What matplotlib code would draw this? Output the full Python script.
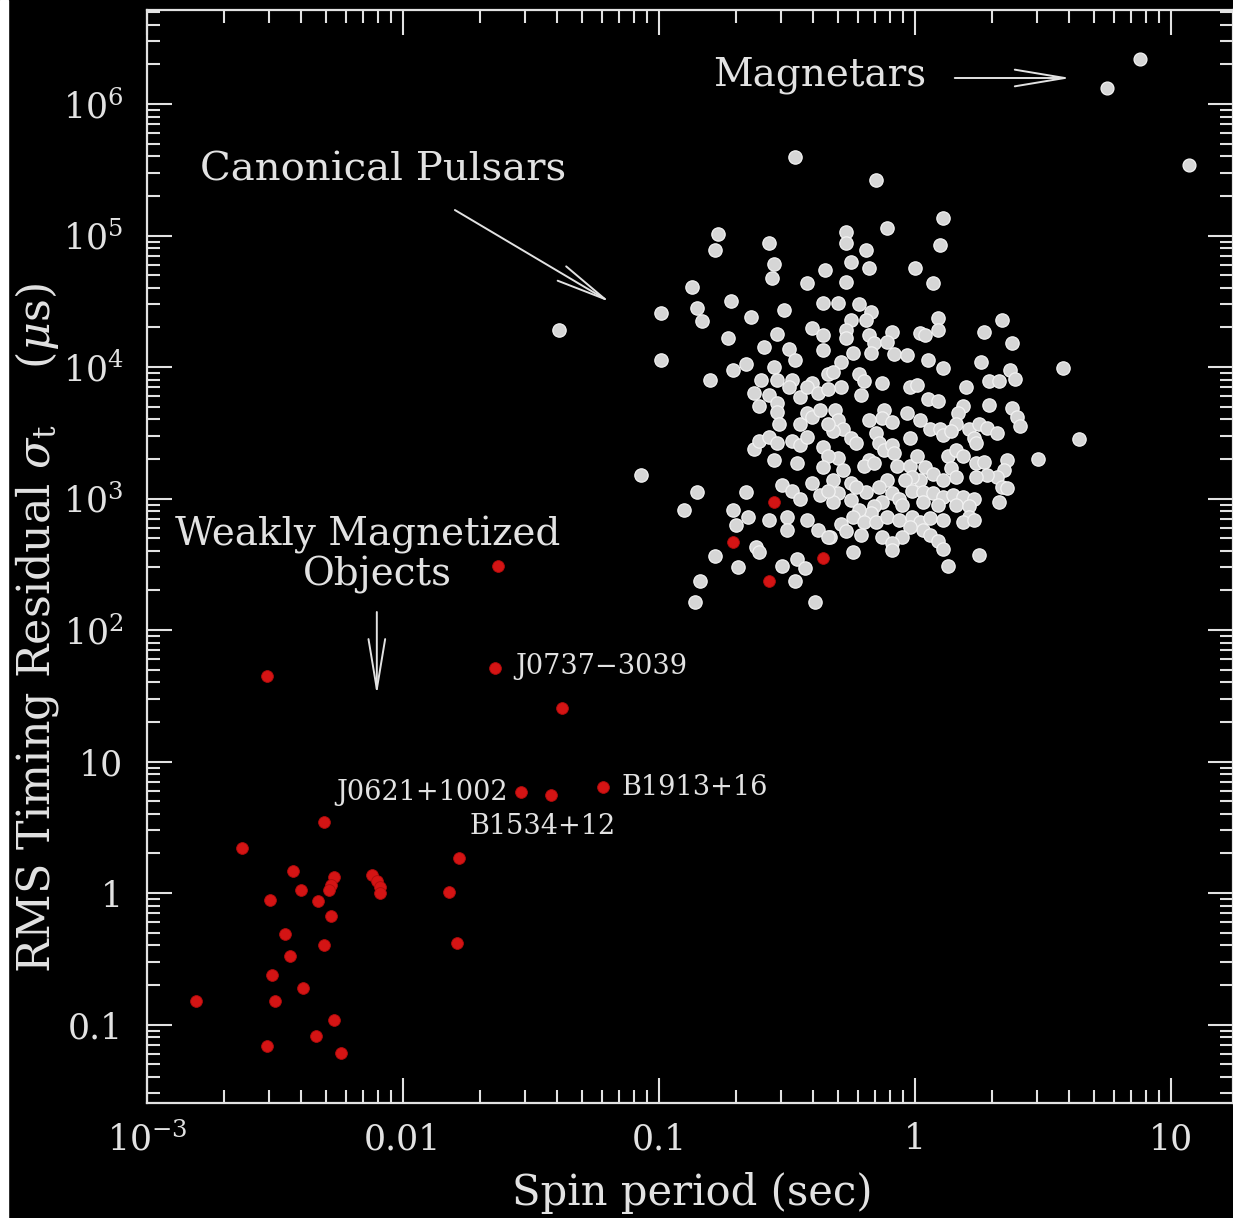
import matplotlib
matplotlib.use("Agg")
import matplotlib.pyplot as plt
import numpy as np
from matplotlib.patches import Rectangle
from matplotlib.ticker import LogLocator, NullFormatter

# values, stored as log10(period / s) and log10(rms / us)
log_period_canonical = [
    -0.47, -0.77, -0.78, -0.57, -0.55, -0.56, -0.35, -0.42, -0.87, -0.72,
    -0.85, -0.83, -0.99, -0.64, -0.51, -0.36, -0.73, -0.54, -0.40, -0.36,
    -0.59, -0.49, -0.36, -0.99, -0.47, -0.71, -0.66, -0.55, -0.34, -0.80,
    -0.60, -0.54, -0.48, -0.40, -1.39,
    -0.15, 0.11, 0.10, -0.11, -0.27, -0.27, -0.19, -0.25, -0.18, 0.00,
    0.07, -0.27, -0.30, -0.22, -0.17, -0.19, -0.25, -0.27, -0.27, -0.18,
    -0.16, -0.09, -0.11, 0.02, 0.04, 0.09, 0.09, 0.34, 0.27, 0.38,
    -0.24, -0.17, -0.08, -0.03, 0.05, 0.11, -0.29, -0.32, 0.26, 0.37,
    0.39, 0.29, 0.33, 0.58, -0.22, -0.20, -0.13, -0.29, -0.02, 0.01,
    0.20,
    -0.21, 0.05, 0.09, 0.29, 0.38, 0.40, 0.41, 0.19, 0.17, 0.16,
    0.21, 0.25, 0.28, 0.32, 0.23, 0.24, 0.64, 0.48, -0.03, 0.02,
    0.06, 0.10, 0.11, 0.14, -0.12, -0.13, -0.09, -0.18, -0.31, -0.30,
    -0.28, -0.32, -0.25, -0.23, -0.15, -0.14, -0.12, -0.09, -0.08, -0.02,
    -0.18, -0.20, -0.16, -0.30, -0.28, -0.32, -0.25, -0.07, -0.02, 0.01,
    0.04, 0.07, 0.13, 0.16, 0.19, 0.24, 0.27, 0.36, 0.35, 0.32,
    0.28, 0.24, 0.34, 0.36, 0.14, 0.16, 0.11, 0.02, -0.01, -0.04,
    -0.11, -0.14, -0.19, -0.23, -0.30, -0.32, -0.25, -0.09, -0.06, -0.01,
    0.03, 0.07, 0.11, 0.15, 0.19, 0.23, 0.16, 0.21, 0.21, 0.19,
    0.23, 0.33, 0.03, 0.09, -0.05, -0.13, -0.16, -0.17, -0.22, -0.24,
    -0.20, -0.29, -0.27, -0.33, -0.21, -0.15, -0.11, -0.06, -0.01, 0.02,
    0.06, 0.11, 0.03, 0.06, 0.09, 0.11, -0.02, -0.05, -0.13, -0.09,
    -0.09, -0.24, 0.13, 0.25,
    -0.63, -0.61, -0.57, -0.54, -0.54, -0.49, -0.45, -0.42, -0.38, -0.34,
    -0.53, -0.45, -0.42, -0.40, -0.37, -0.34, -0.63, -0.61, -0.57, -0.54,
    -0.48, -0.45, -0.42, -0.36, -0.34, -0.36, -0.55, -0.46, -1.07, -0.85,
    -0.90, -0.66, -0.52, -0.48, -0.40, -0.37, -0.34, -0.45, -0.71, -0.70,
    -0.65, -0.57, -0.50, -0.50, -0.42, -0.38, -0.34, -0.62, -0.61, -0.78,
    -0.69, -0.52, -0.46, -0.43, -0.84, -0.47, -0.86, -0.39,
]
log_rms_canonical = [
    5.60, 5.01, 4.89, 4.94, 4.78, 4.68, 4.74, 4.64, 4.61, 4.50,
    4.45, 4.35, 4.41, 4.38, 4.43, 4.49, 4.22, 4.25, 4.30, 4.24,
    4.15, 4.14, 4.13, 4.05, 4.05, 3.98, 4.02, 4.00, 3.95, 3.90,
    3.90, 3.90, 3.90, 3.88, 4.28,
    5.42, 5.13, 4.93, 5.06, 5.03, 4.94, 4.89, 4.80, 4.75, 4.75,
    4.64, 4.65, 4.49, 4.48, 4.42, 4.36, 4.36, 4.28, 4.22, 4.24,
    4.18, 4.27, 4.19, 4.26, 4.24, 4.37, 4.28, 4.36, 4.27, 4.18,
    4.11, 4.11, 4.10, 4.09, 4.05, 3.99, 4.04, 3.96, 4.04, 3.98,
    3.91, 3.89, 3.89, 3.99, 3.95, 3.89, 3.88, 3.85, 3.85, 3.86,
    3.85,
    3.79, 3.76, 3.74, 3.71, 3.69, 3.62, 3.55, 3.70, 3.65, 3.57,
    3.53, 3.57, 3.54, 3.50, 3.46, 3.42, 3.45, 3.30, 3.65, 3.60,
    3.53, 3.53, 3.48, 3.51, 3.67, 3.61, 3.58, 3.60, 3.67, 3.60,
    3.53, 3.51, 3.46, 3.42, 3.50, 3.42, 3.37, 3.41, 3.35, 3.46,
    3.29, 3.25, 3.27, 3.31, 3.22, 3.14, 3.12, 3.25, 3.25, 3.32,
    3.24, 3.19, 3.32, 3.37, 3.32, 3.27, 3.28, 3.29, 3.22, 3.16,
    3.18, 3.16, 3.09, 3.08, 3.23, 3.16, 3.14, 3.14, 3.16, 3.14,
    3.14, 3.09, 3.05, 3.09, 3.04, 2.97, 2.99, 3.04, 3.00, 3.06,
    3.05, 3.04, 3.01, 3.03, 3.01, 3.00, 2.95, 2.94, 2.86, 2.82,
    2.84, 2.97, 2.97, 2.95, 2.95, 2.97, 2.94, 2.89, 2.91, 2.86,
    2.82, 2.81, 2.75, 2.71, 2.72, 2.82, 2.86, 2.84, 2.86, 2.82,
    2.85, 2.84, 2.76, 2.72, 2.68, 2.62, 2.78, 2.71, 2.71, 2.66,
    2.61, 2.59, 2.49, 2.57,
    3.80, 3.70, 3.79, 3.73, 3.66, 3.85, 3.77, 3.85, 3.80, 3.83,
    3.57, 3.57, 3.65, 3.62, 3.67, 3.57, 3.38, 3.44, 3.47, 3.42,
    3.44, 3.41, 3.47, 3.39, 3.32, 3.24, 3.29, 3.27, 3.18, 3.05,
    2.91, 3.05, 3.10, 3.06, 3.12, 3.03, 3.06, 3.00, 2.91, 2.80,
    2.86, 2.84, 2.86, 2.76, 2.84, 2.76, 2.71, 2.63, 2.59, 2.56,
    2.48, 2.49, 2.54, 2.47, 2.37, 2.37, 2.21, 2.21,
]

log_period_magnetar = [0.88, 0.75, 1.07]
log_rms_magnetar = [6.34, 6.12, 5.54]

log_period_weak = [
    -1.63, -1.64, -2.53, -1.38, -1.54, -1.42, -1.22, -2.31, -2.63, -1.78,
    -2.43, -2.27, -2.28, -2.29, -2.12, -2.10, -2.09, -2.09, -1.82, -2.40,
    -2.52, -2.33, -2.28, -1.79, -2.46, -2.31, -2.44, -2.51, -2.39, -2.81,
    -2.50, -2.27, -2.34, -2.53, -2.24,
    -0.55, -0.71, -0.57, -0.36,
]
log_rms_weak = [
    2.49, 1.71, 1.65, 1.41, 0.77, 0.745, 0.81, 0.54, 0.34, 0.27,
    0.17, 0.12, 0.06, 0.02, 0.14, 0.09, 0.045, 0.00, 0.01, 0.02,
    -0.05, -0.06, -0.175, -0.38, -0.31, -0.395, -0.48, -0.62, -0.72, -0.82,
    -0.82, -0.966, -1.09, -1.16, -1.22,
    2.97, 2.67, 2.37, 2.55,
]

x_ticks = [1e-3, 0.01, 0.1, 1, 10]
x_tick_labels = ['$10^{-3}$', '0.01', '0.1', '1', '10']
y_ticks = [0.1, 1, 10, 1e2, 1e3, 1e4, 1e5, 1e6]
y_tick_labels = ['0.1', '1', '10', '$10^2$', '$10^3$', '$10^4$', '$10^5$', '$10^6$']

FG = '#e2e2e2'
plt.rcParams['font.family'] = ['DejaVu Serif']
plt.rcParams['mathtext.fontset'] = 'dejavuserif'

fig = plt.figure(figsize=(12.33, 12.18), dpi=100, facecolor='black')
fig.patches.append(Rectangle((0, 0), 8 / 1233, 1, transform=fig.transFigure,
                             color='white', zorder=0))
ax = fig.add_axes([0.1192, 0.0944, 0.8808, 0.8974])
ax.set_facecolor('black')

ax.scatter(10 ** np.array(log_period_canonical), 10 ** np.array(log_rms_canonical),
           s=92, c='#d6d6d6', edgecolors='#f2f2f2', linewidths=0.9, zorder=3)
ax.scatter(10 ** np.array(log_period_magnetar), 10 ** np.array(log_rms_magnetar),
           s=86, c='#d6d6d6', edgecolors='#f2f2f2', linewidths=0.9, zorder=3)
ax.scatter(10 ** np.array(log_period_weak), 10 ** np.array(log_rms_weak),
           s=72, c='#d41414', edgecolors='#b00c0c', linewidths=0.6, zorder=4)

ax.set_xscale('log')
ax.set_yscale('log')
ax.set_xlim(1e-3, 17.5)
ax.set_ylim(0.0253, 5.19e6)

ax.set_xticks(x_ticks)
ax.set_xticklabels(x_tick_labels)
ax.set_yticks(y_ticks)
ax.set_yticklabels(y_tick_labels)
for axis in (ax.xaxis, ax.yaxis):
    axis.set_minor_locator(LogLocator(base=10, subs=np.arange(2, 10), numticks=30))
    axis.set_minor_formatter(NullFormatter())

ax.tick_params(which='both', direction='in', top=True, right=True, colors=FG,
               width=1.5)
ax.tick_params(which='major', length=18, labelsize=25, pad=14)
ax.tick_params(which='minor', length=9.5)
ax.tick_params(axis='y', which='major', pad=17)
for sp in ax.spines.values():
    sp.set_color(FG)
    sp.set_linewidth(1.6)

fig.text(692 / 1233, 1 - 1193 / 1218, 'Spin period (sec)', color=FG, fontsize=30,
         ha='center', va='center')
fig.text(37 / 1233, 1 - 628 / 1218,
         r'RMS Timing Residual $\sigma_{\rm t}$    ($\mu$s)',
         color=FG, fontsize=32, ha='center', va='center', rotation=90)

arrow = dict(arrowstyle='->, head_length=3.6, head_width=0.6', color=FG, lw=1.4,
             shrinkA=0, shrinkB=0, mutation_scale=10)
ax.text(10 ** -0.79, 10 ** 6.22, 'Magnetars', color=FG, fontsize=28,
        ha='left', va='center')
ax.annotate('', xy=(10 ** 0.609, 10 ** 6.198), xytext=(10 ** 0.156, 10 ** 6.198),
            arrowprops=arrow)
ax.text(10 ** -2.793, 10 ** 5.498, 'Canonical Pulsars', color=FG, fontsize=29,
        ha='left', va='center')
ax.annotate('', xy=(10 ** -1.191, 10 ** 4.494), xytext=(10 ** -1.797, 10 ** 5.194),
            arrowprops=arrow)
ax.text(10 ** -2.137, 10 ** 2.72, 'Weakly Magnetized', color=FG, fontsize=28,
        ha='center', va='center')
ax.text(10 ** -2.098, 10 ** 2.418, 'Objects', color=FG, fontsize=28,
        ha='center', va='center')
ax.annotate('', xy=(10 ** -2.102, 10 ** 1.506), xytext=(10 ** -2.102, 10 ** 2.137),
            arrowprops=arrow)

ax.text(10 ** -1.5625, 10 ** 1.719, 'J0737\u22123039', color=FG, fontsize=19.5,
        ha='left', va='center')
ax.text(10 ** -1.590, 10 ** 0.768, 'J0621+1002', color=FG, fontsize=19.5,
        ha='right', va='center')
ax.text(10 ** -1.738, 10 ** 0.509, 'B1534+12', color=FG, fontsize=19.5,
        ha='left', va='center')
ax.text(10 ** -1.145, 10 ** 0.806, 'B1913+16', color=FG, fontsize=19.5,
        ha='left', va='center')

fig.savefig('out.png', dpi=100, facecolor='black')
